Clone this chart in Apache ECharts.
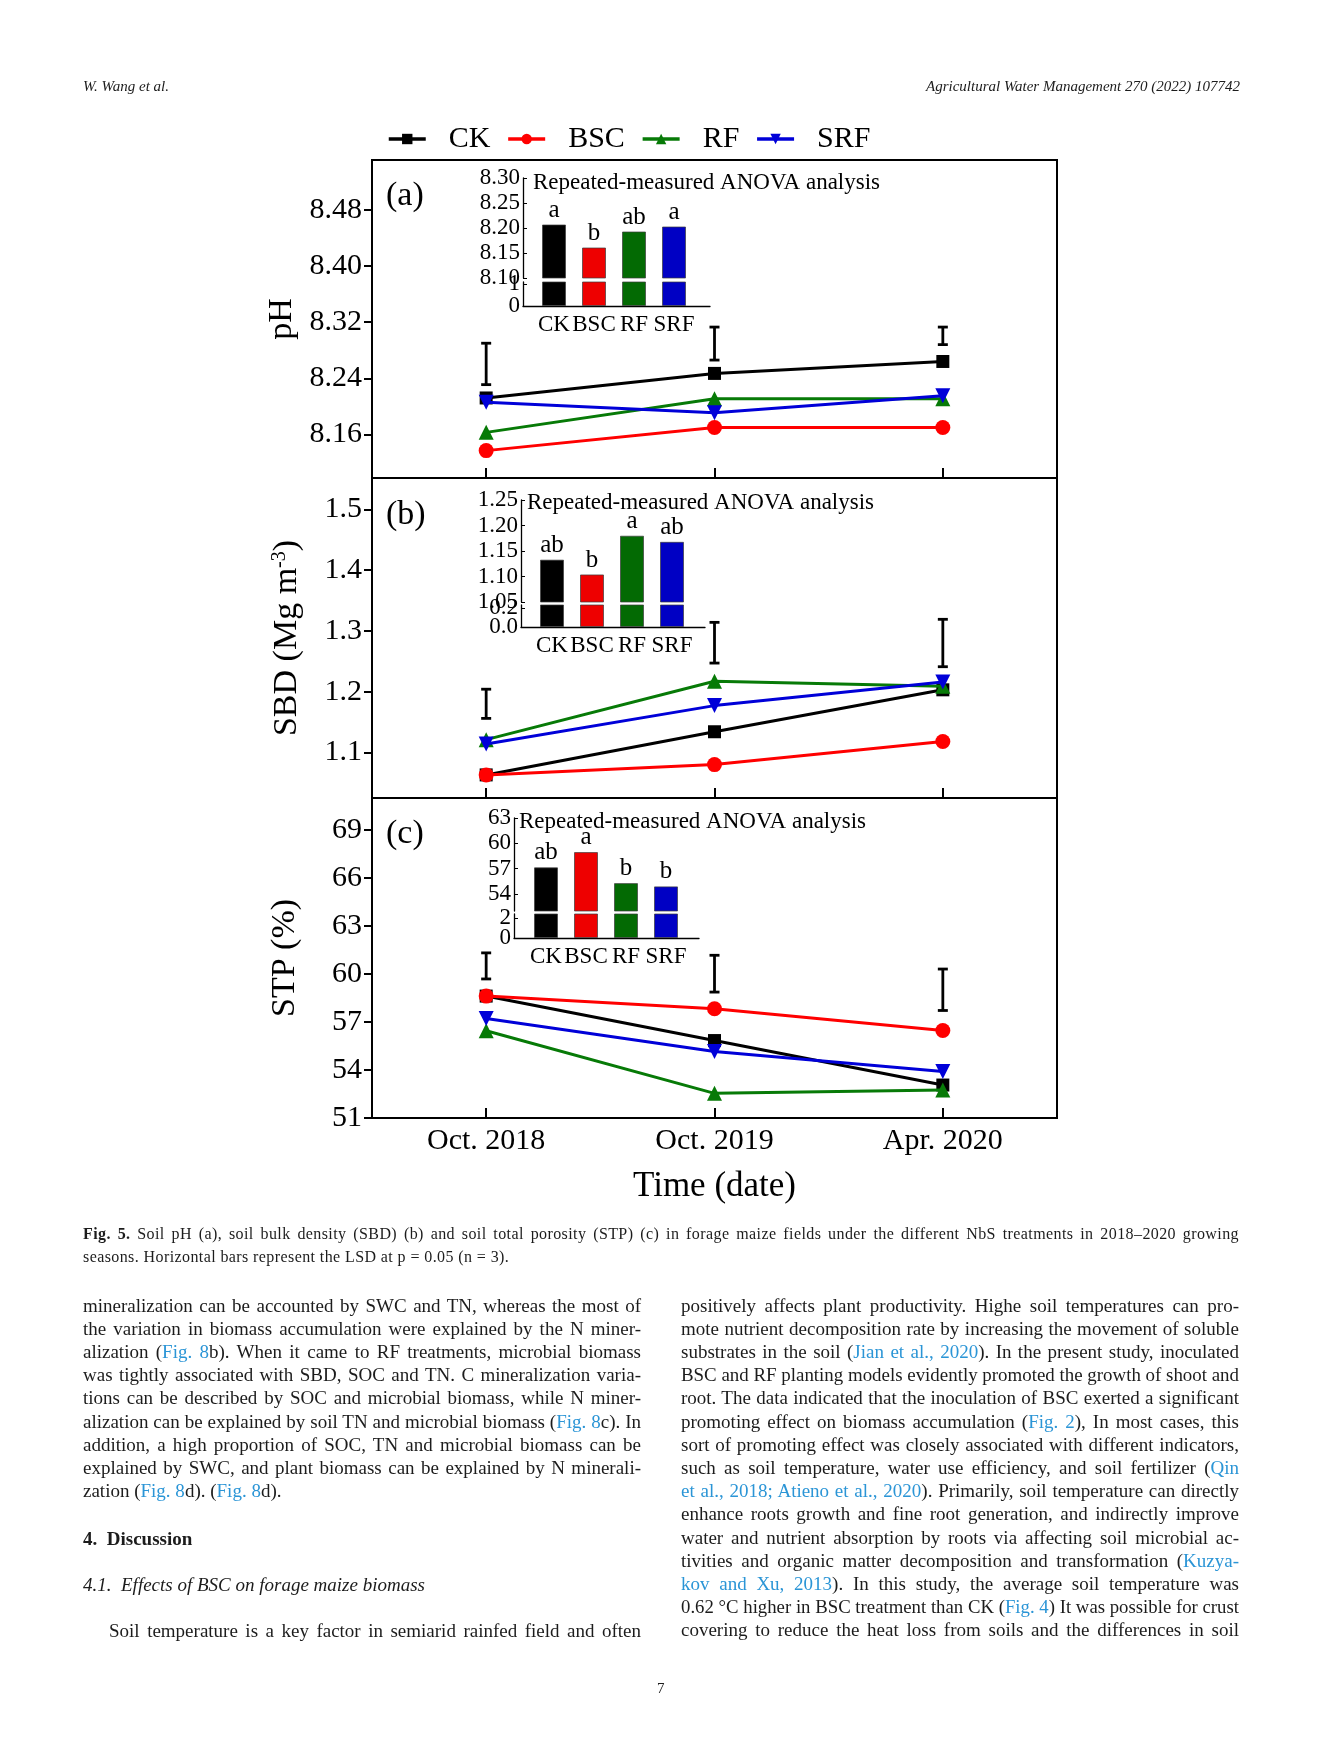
<!DOCTYPE html>
<html>
<head>
<meta charset="utf-8">
<script src="https://cdn.jsdelivr.net/npm/echarts@6/dist/echarts.min.js"></script>
<style>
html,body{margin:0;padding:0;background:#fff;}
#page{position:relative;width:1323px;height:1764px;overflow:hidden;font-family:"Liberation Serif",serif;color:#1c1c1c;}
#chart{position:absolute;left:0;top:0;width:1323px;height:1764px;}
.t{position:absolute;white-space:nowrap;z-index:2;}
.hdr{font-size:15px;line-height:15px;font-style:italic;top:79px;}
.cap{font-size:16px;line-height:16px;left:83px;}
.ln{font-size:19px;line-height:19px;}
.lk{color:#2b95d6;}
</style>
</head>
<body>
<div id="page">
<div id="chart"></div>

<div class="t hdr" style="left:83px;">W. Wang et al.</div>
<div class="t hdr" style="right:83px;">Agricultural Water Management 270 (2022) 107742</div>

<div class="t cap" style="top:1226px;" data-w="1156" data-ls="1"><b>Fig. 5.</b> Soil pH (a), soil bulk density (SBD) (b) and soil total porosity (STP) (c) in forage maize fields under the different NbS treatments in 2018–2020 growing</div>
<div class="t cap" style="top:1249px;" data-lsfix="1">seasons. Horizontal bars represent the LSD at p = 0.05 (n = 3).</div>

<div class="t ln" style="left:83px;top:1295.5px;" data-w="558">mineralization can be accounted by SWC and TN, whereas the most of</div>
<div class="t ln" style="left:83px;top:1318.7px;" data-w="558">the variation in biomass accumulation were explained by the N miner-</div>
<div class="t ln" style="left:83px;top:1341.9px;" data-w="558">alization (<span class="lk">Fig. 8</span>b). When it came to RF treatments, microbial biomass</div>
<div class="t ln" style="left:83px;top:1365.1px;" data-w="558">was tightly associated with SBD, SOC and TN. C mineralization varia-</div>
<div class="t ln" style="left:83px;top:1388.3px;" data-w="558">tions can be described by SOC and microbial biomass, while N miner-</div>
<div class="t ln" style="left:83px;top:1411.5px;" data-w="558">alization can be explained by soil TN and microbial biomass (<span class="lk">Fig. 8</span>c). In</div>
<div class="t ln" style="left:83px;top:1434.7px;" data-w="558">addition, a high proportion of SOC, TN and microbial biomass can be</div>
<div class="t ln" style="left:83px;top:1457.9px;" data-w="558">explained by SWC, and plant biomass can be explained by N minerali-</div>
<div class="t ln" style="left:83px;top:1481.1px;">zation (<span class="lk">Fig. 8</span>d). (<span class="lk">Fig. 8</span>d).</div>
<div class="t ln" style="left:83px;top:1528.5px;font-weight:bold;">4.&nbsp;&nbsp;Discussion</div>
<div class="t ln" style="left:83px;top:1574.5px;font-style:italic;">4.1.&nbsp;&nbsp;Effects of BSC on forage maize biomass</div>
<div class="t ln" style="left:109px;top:1620.5px;" data-w="532">Soil temperature is a key factor in semiarid rainfed field and often</div>

<div class="t ln" style="left:681px;top:1295.5px;" data-w="558">positively affects plant productivity. Highe soil temperatures can pro-</div>
<div class="t ln" style="left:681px;top:1318.7px;" data-w="558">mote nutrient decomposition rate by increasing the movement of soluble</div>
<div class="t ln" style="left:681px;top:1341.9px;" data-w="558">substrates in the soil (<span class="lk">Jian et al., 2020</span>). In the present study, inoculated</div>
<div class="t ln" style="left:681px;top:1365.1px;" data-w="558">BSC and RF planting models evidently promoted the growth of shoot and</div>
<div class="t ln" style="left:681px;top:1388.3px;" data-w="558">root. The data indicated that the inoculation of BSC exerted a significant</div>
<div class="t ln" style="left:681px;top:1411.5px;" data-w="558">promoting effect on biomass accumulation (<span class="lk">Fig. 2</span>), In most cases, this</div>
<div class="t ln" style="left:681px;top:1434.7px;" data-w="558">sort of promoting effect was closely associated with different indicators,</div>
<div class="t ln" style="left:681px;top:1457.9px;" data-w="558">such as soil temperature, water use efficiency, and soil fertilizer (<span class="lk">Qin</span></div>
<div class="t ln" style="left:681px;top:1481.1px;" data-w="558"><span class="lk">et al., 2018; Atieno et al., 2020</span>). Primarily, soil temperature can directly</div>
<div class="t ln" style="left:681px;top:1504.3px;" data-w="558">enhance roots growth and fine root generation, and indirectly improve</div>
<div class="t ln" style="left:681px;top:1527.5px;" data-w="558">water and nutrient absorption by roots via affecting soil microbial ac-</div>
<div class="t ln" style="left:681px;top:1550.7px;" data-w="558">tivities and organic matter decomposition and transformation (<span class="lk">Kuzya-</span></div>
<div class="t ln" style="left:681px;top:1573.9px;" data-w="558"><span class="lk">kov and Xu, 2013</span>). In this study, the average soil temperature was</div>
<div class="t ln" style="left:681px;top:1597.1px;" data-w="558">0.62 °C higher in BSC treatment than CK (<span class="lk">Fig. 4</span>) It was possible for crust</div>
<div class="t ln" style="left:681px;top:1620.3px;" data-w="558">covering to reduce the heat loss from soils and the differences in soil</div>

<div class="t" style="left:657px;top:1681px;font-size:15px;line-height:15px;">7</div>
</div>

<script>
// ---------------- data ----------------
const timeCats = ['Oct. 2018', 'Oct. 2019', 'Apr. 2020'];
const treatments = ['CK', 'BSC', 'RF', 'SRF'];

// (a) soil pH
const phCK  = [8.212, 8.247, 8.264];
const phBSC = [8.137, 8.170, 8.170];
const phRF  = [8.163, 8.211, 8.211];
const phSRF = [8.206, 8.191, 8.215];
const phLSD = [[8.231, 8.290], [8.266, 8.313], [8.288, 8.313]];
const phTicks = [8.16, 8.24, 8.32, 8.40, 8.48];
const phMean = [8.207, 8.161, 8.193, 8.203];
const phLetters = ['a', 'b', 'ab', 'a'];
const phInsetTicks = [8.10, 8.15, 8.20, 8.25, 8.30];
const phInsetLowTicks = [0, 1];

// (b) soil bulk density
const sbdCK  = [1.063, 1.134, 1.203];
const sbdBSC = [1.063, 1.080, 1.118];
const sbdRF  = [1.121, 1.217, 1.209];
const sbdSRF = [1.114, 1.177, 1.216];
const sbdLSD = [[1.156, 1.204], [1.247, 1.314], [1.241, 1.319]];
const sbdTicks = [1.1, 1.2, 1.3, 1.4, 1.5];
const sbdMean = [1.133, 1.104, 1.180, 1.168];
const sbdLetters = ['ab', 'b', 'a', 'ab'];
const sbdInsetTicks = [1.05, 1.10, 1.15, 1.20, 1.25];
const sbdInsetLowTicks = [0.0, 0.2];

// (c) soil total porosity
const stpCK  = [58.62, 55.84, 53.06];
const stpBSC = [58.62, 57.83, 56.47];
const stpRF  = [56.45, 52.54, 52.75];
const stpSRF = [57.22, 55.15, 53.90];
const stpLSD = [[59.69, 61.32], [58.87, 61.17], [57.72, 60.31]];
const stpTicks = [51, 54, 57, 60, 63, 66, 69];
const stpMean = [57.16, 58.97, 55.30, 54.91];
const stpLetters = ['ab', 'a', 'b', 'b'];
const stpInsetTicks = [54, 57, 60, 63];
const stpInsetLowTicks = [0, 2];

const insetTitle = 'Repeated-measured ANOVA analysis';

// ---------------- styles / layout ----------------
const FONT = '"Liberation Serif", "Times New Roman", serif';
const lineColors = ['#000000', '#ff0000', '#077a07', '#0000d8'];
const barColors  = ['#000000', '#ee0000', '#036a03', '#0000c4'];
const symbolDefs = [
  {symbol: 'rect', size: 13, rotate: 0},
  {symbol: 'circle', size: 15, rotate: 0},
  {symbol: 'triangle', size: [15, 15], rotate: 0},
  {symbol: 'triangle', size: [15, 15], rotate: 180}
];

const mainPanels = [
  {vals: [phCK, phBSC, phRF, phSRF], lsd: phLSD, ticks: phTicks, min: 8.098, max: 8.551, dec: 2,
   name: 'pH', nameGap: 70, top: 160, h: 318, letter: '(a)', ly: 196},
  {vals: [sbdCK, sbdBSC, sbdRF, sbdSRF], lsd: sbdLSD, ticks: sbdTicks, min: 1.025, max: 1.5515, dec: 1,
   name: '{n|SBD (Mg m}{s|-3}{n|)}', nameGap: 68, top: 478, h: 320, letter: '(b)', ly: 515},
  {vals: [stpCK, stpBSC, stpRF, stpSRF], lsd: stpLSD, ticks: stpTicks, min: 51, max: 71, dec: 0,
   name: 'STP (%)', nameGap: 70, top: 798, h: 320, letter: '(c)', ly: 834}
];

const insets = [
  {mean: phMean, letters: phLetters, hi: phInsetTicks, lo: phInsetLowTicks, upMin: 8.10, upMax: 8.30, loMax: 1.1,
   dec: 2, loDec: 0, left: 523, width: 187, upTop: 178, upH: 100, loTop: 282, loH: 24, xMin: -0.775, xMax: 3.9, tx: 533, ty: 183},
  {mean: sbdMean, letters: sbdLetters, hi: sbdInsetTicks, lo: sbdInsetLowTicks, upMin: 1.05, upMax: 1.25, loMax: 0.23,
   dec: 2, loDec: 1, left: 521, width: 184, upTop: 500, upH: 102, loTop: 605, loH: 22, xMin: -0.775, xMax: 3.825, tx: 527, ty: 503},
  {mean: stpMean, letters: stpLetters, hi: stpInsetTicks, lo: stpInsetLowTicks, upMin: 52, upMax: 63, loMax: 2.4,
   dec: 0, loDec: 0, left: 514, width: 185, upTop: 818, upH: 93, loTop: 914, loH: 24, xMin: -0.8, xMax: 3.825, tx: 519, ty: 822}
];

const grid = [], xAxis = [], yAxis = [], extraY = [], series = [], graphic = [];

function lsdRender(params, api) {
  const x = api.value(0);
  const p1 = api.coord([x, api.value(1)]);
  const p2 = api.coord([x, api.value(2)]);
  const c = 5;
  const st = {stroke: '#000', lineWidth: 2.8};
  return {type: 'group', children: [
    {type: 'line', shape: {x1: p1[0], y1: p1[1], x2: p2[0], y2: p2[1]}, style: st},
    {type: 'line', shape: {x1: p1[0] - c, y1: p1[1], x2: p1[0] + c, y2: p1[1]}, style: st},
    {type: 'line', shape: {x1: p2[0] - c, y1: p2[1], x2: p2[0] + c, y2: p2[1]}, style: st}
  ]};
}

mainPanels.forEach((p, gi) => {
  const last = gi === mainPanels.length - 1;
  grid.push({left: 372, width: 685, top: p.top, height: p.h, show: true, borderColor: '#000', borderWidth: 2, backgroundColor: 'transparent'});
  xAxis.push({
    type: 'category', gridIndex: gi, data: timeCats, boundaryGap: true,
    axisLine: {lineStyle: {color: '#000', width: 2}},
    axisTick: {show: true, inside: true, alignWithLabel: true, length: 10, lineStyle: {color: '#000', width: 2}},
    axisLabel: {show: last, color: '#000', fontFamily: FONT, fontSize: 30, margin: 8},
    name: last ? 'Time (date)' : '', nameLocation: 'middle', nameGap: 51,
    nameTextStyle: {color: '#000', fontFamily: FONT, fontSize: 35},
    splitLine: {show: false}
  });
  yAxis.push({
    type: 'value', gridIndex: gi, min: p.min, max: p.max,
    axisLine: {show: true, lineStyle: {color: '#000', width: 2}},
    axisTick: {show: true, inside: false, length: 8, customValues: p.ticks, lineStyle: {color: '#000', width: 2}},
    axisLabel: {customValues: p.ticks, formatter: v => Number(v).toFixed(p.dec), color: '#000', fontFamily: FONT, fontSize: 30, margin: 10},
    splitLine: {show: false},
    name: p.name, nameLocation: 'middle', nameGap: p.nameGap, nameRotate: 90,
    nameTextStyle: {color: '#000', fontFamily: FONT, fontSize: 34,
      rich: {n: {fontFamily: FONT, fontSize: 34, color: '#000'}, s: {fontFamily: FONT, fontSize: 20, color: '#000', verticalAlign: 'top', padding: [0, 0, 14, 0]}}}
  });
  p.vals.forEach((arr, si) => {
    const s = symbolDefs[si];
    series.push({
      type: 'line', name: treatments[si], xAxisIndex: gi, yAxisIndex: gi, data: arr,
      symbol: s.symbol, symbolSize: s.size, symbolRotate: s.rotate, showAllSymbol: true,
      itemStyle: {color: lineColors[si]}, lineStyle: {color: lineColors[si], width: 3},
      z: 3 + si, animation: false
    });
  });
  series.push({
    type: 'custom', name: 'LSD', xAxisIndex: gi, yAxisIndex: gi,
    data: p.lsd.map((d, i) => [i, d[0], d[1]]), renderItem: lsdRender, z: 10, animation: false
  });
  graphic.push({type: 'text', x: 386, y: p.ly, style: {text: p.letter, font: '34px ' + FONT, fill: '#000', textVerticalAlign: 'middle'}});
});

insets.forEach((ins, k) => {
  const gUp = grid.length, gLo = grid.length + 1;
  grid.push({left: ins.left, width: ins.width, top: ins.upTop, height: ins.upH});
  grid.push({left: ins.left, width: ins.width, top: ins.loTop, height: ins.loH});
  const yLine = {show: true, onZero: false, lineStyle: {color: '#000', width: 1.3}};
  const lowLabel = vals => ({customValues: vals, showMinLabel: true, showMaxLabel: true,
    formatter: v => Number(v).toFixed(ins.loDec), color: '#000', fontFamily: FONT, fontSize: 23, margin: 3});
  xAxis.push({type: 'value', gridIndex: gUp, min: ins.xMin, max: ins.xMax, show: false, splitLine: {show: false}});
  xAxis.push({type: 'value', gridIndex: gLo, min: ins.xMin, max: ins.xMax,
    axisLine: {show: true, onZero: false, lineStyle: {color: '#000', width: 1.3}}, axisTick: {show: false},
    axisLabel: {customValues: [0, 1, 2, 3], formatter: v => treatments[Math.round(v)], color: '#000', fontFamily: FONT, fontSize: 23, margin: 7},
    splitLine: {show: false}});
  yAxis.push({type: 'value', gridIndex: gUp, min: ins.upMin, max: ins.upMax,
    axisLine: yLine, splitLine: {show: false},
    axisTick: {show: true, inside: true, length: 4, customValues: ins.hi, lineStyle: {color: '#000', width: 1}},
    axisLabel: {customValues: ins.hi, showMinLabel: true, showMaxLabel: true, formatter: v => Number(v).toFixed(ins.dec), color: '#000', fontFamily: FONT, fontSize: 23, margin: 3}});
  yAxis.push({type: 'value', gridIndex: gLo, min: 0, max: ins.loMax,
    axisLine: yLine, splitLine: {show: false},
    axisTick: {show: true, inside: true, length: 4, customValues: ins.lo, lineStyle: {color: '#000', width: 1}},
    axisLabel: lowLabel(ins.lo.slice(0, 1))});
  // second left axis on the lower segment carries the upper tick label of the broken axis
  extraY.push({type: 'value', gridIndex: gLo, position: 'left', offset: 0, min: 0, max: ins.loMax,
    axisLine: {show: false}, axisTick: {show: false}, splitLine: {show: false},
    axisLabel: lowLabel(ins.lo.slice(1))});
  const barData = ins.mean.map((v, i) => ({value: [i, v], itemStyle: {color: barColors[i]}}));
  series.push({
    type: 'bar', name: 'inset' + k, xAxisIndex: gUp, yAxisIndex: gUp, data: barData, barWidth: 24, clip: true,
    itemStyle: {borderColor: 'rgba(60,60,60,0.7)', borderWidth: 1},
    label: {show: true, position: 'top', distance: 2, formatter: pr => ins.letters[pr.dataIndex], color: '#000', fontFamily: FONT, fontSize: 25},
    animation: false
  });
  series.push({
    type: 'bar', name: 'insetLow' + k, xAxisIndex: gLo, yAxisIndex: gLo, data: barData, barWidth: 24, clip: true,
    itemStyle: {borderColor: 'rgba(60,60,60,0.7)', borderWidth: 1}, animation: false
  });
  graphic.push({type: 'text', x: ins.tx, y: ins.ty, style: {text: insetTitle, font: '23px ' + FONT, fill: '#000', textVerticalAlign: 'middle'}});
});

const chart = echarts.init(document.getElementById('chart'), null, {renderer: 'canvas'});
chart.setOption({
  animation: false,
  backgroundColor: 'transparent',
  legend: {
    data: treatments, left: 387, top: 124, padding: 0, itemWidth: 37, itemHeight: 13, itemGap: 16,
    lineStyle: {width: 3.5},
    textStyle: {fontFamily: FONT, fontSize: 30, color: '#000', padding: [0, 0, 0, 18]}
  },
  grid, xAxis, yAxis: yAxis.concat(extraY), series, graphic
});

function justifyAll() {
  document.querySelectorAll('[data-w]').forEach(el => {
    const target = +el.dataset.w;
    el.style.wordSpacing = '0px';
    el.style.letterSpacing = '0px';
    el.style.transform = '';
    let w = el.getBoundingClientRect().width;
    const spaces = (el.textContent.match(/ /g) || []).length;
    if (w > target) {
      el.style.transformOrigin = '0 0';
      el.style.transform = 'scaleX(' + (target / w) + ')';
      return;
    }
    if (el.dataset.ls) {
      const ls = Math.min((target - w) * 0.5 / el.textContent.length, 0.6);
      el.style.letterSpacing = ls + 'px';
      document.querySelectorAll('[data-lsfix]').forEach(e => e.style.letterSpacing = ls + 'px');
      w = el.getBoundingClientRect().width;
    }
    if (spaces > 0 && w < target) {
      el.style.wordSpacing = ((target - w) / spaces) + 'px';
    }
  });
}
justifyAll();
if (document.fonts && document.fonts.ready) document.fonts.ready.then(justifyAll);
</script>
</body>
</html>
